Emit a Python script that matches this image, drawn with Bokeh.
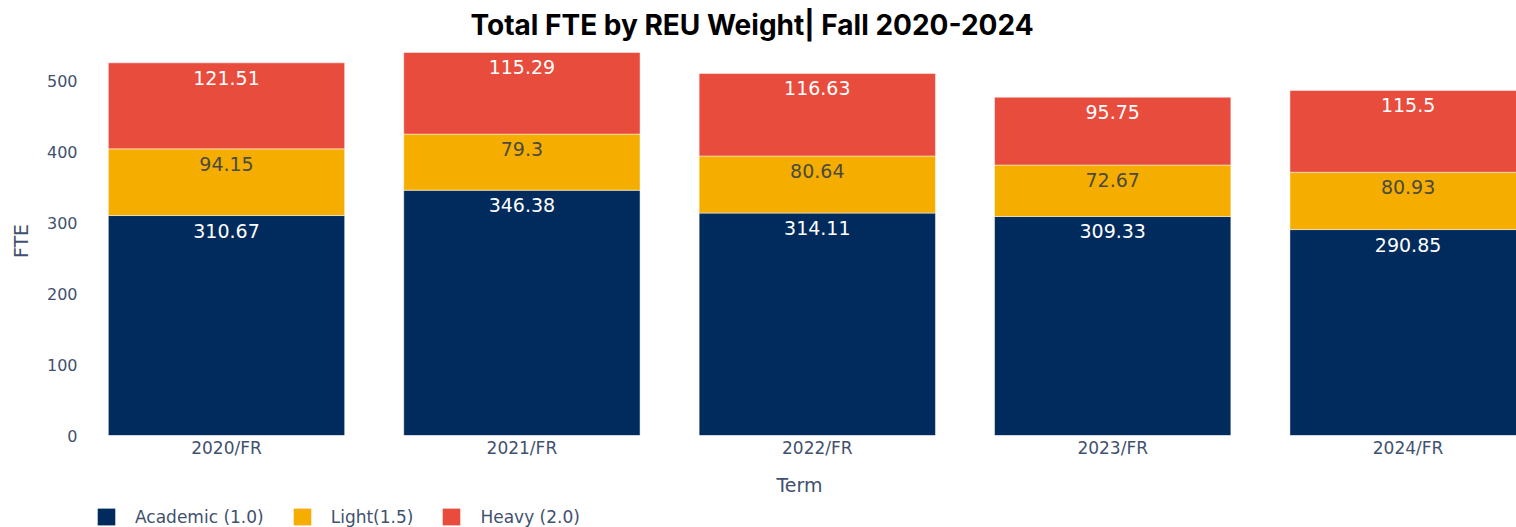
from bokeh.plotting import figure
from bokeh.layouts import column
from bokeh.models import (ColumnDataSource, Range1d, FixedTicker, Legend, LegendItem)
from bokeh.core.properties import value
from bokeh.embed import file_html
from bokeh.resources import INLINE

terms = ["2020/FR", "2021/FR", "2022/FR", "2023/FR", "2024/FR"]
academic = [310.67, 346.38, 314.11, 309.33, 290.85]
light = [94.15, 79.3, 80.64, 72.67, 80.93]
heavy = [121.51, 115.29, 116.63, 95.75, 115.5]
series_names = ["Academic (1.0)", "Light(1.5)", "Heavy (2.0)"]
y_ticks = [0, 100, 200, 300, 400, 500]

colors = ["#002B5C", "#F5AD00", "#E84C3D"]
text_colors = ["#FFFFFF", "#4A4A40", "#FFFFFF"]
tick_color = "#3F516E"

idx = list(range(len(terms)))
src = ColumnDataSource(dict(x=idx, academic=academic, light=light, heavy=heavy))

p = figure(width=1516, height=500, output_backend="svg", toolbar_location=None,
           x_range=Range1d(-0.4875, 4.367), y_range=Range1d(0, 549.4),
           min_border_left=82, min_border_right=0, min_border_top=45,
           min_border_bottom=65)
p.outline_line_color = None
p.grid.visible = False

p.title.text = "Total FTE by REU Weight| Fall 2020-2024"
p.title.text_font = "Inter"
p.title.text_font_style = "bold"
p.title.text_font_size = "28px"
p.title.text_color = "#000000"
p.title.align = "left"
p.title.offset = 388

rs = p.vbar_stack(["academic", "light", "heavy"], x="x", width=0.8, source=src,
                  color=colors, line_color="white", line_width=0.8, line_alpha=0.6)

# value labels near the top of each segment
cum = [0.0] * len(terms)
for vals, tc in zip([academic, light, heavy], text_colors):
    tops = [c + v for c, v in zip(cum, vals)]
    cum = tops
    p.text(x=idx, y=tops, text=[f"{v:g}" for v in vals], text_align="center",
           text_baseline="top", y_offset=8, text_font=value("DejaVu Sans"),
           text_font_size="19px", text_color=tc)

p.xaxis.ticker = FixedTicker(ticks=idx)
p.xaxis.major_label_overrides = {i: t for i, t in enumerate(terms)}
p.yaxis.ticker = FixedTicker(ticks=y_ticks)
for ax in (p.xaxis, p.yaxis):
    ax.axis_line_color = None
    ax.major_tick_line_color = None
    ax.minor_tick_line_color = None
    ax.major_tick_out = 0
    ax.major_tick_in = 0
    ax.major_label_text_font = "DejaVu Sans"
    ax.major_label_text_color = tick_color
    ax.axis_label_text_font = "DejaVu Sans"
    ax.axis_label_text_font_style = "normal"
    ax.axis_label_text_color = tick_color
p.xaxis.major_label_text_font_size = "17px"
p.yaxis.major_label_text_font_size = "16px"
p.xaxis.major_label_standoff = 2
p.yaxis.major_label_standoff = 5
p.xaxis.axis_label = "Term"
p.xaxis.axis_label_text_font_size = "19px"
p.xaxis.axis_label_standoff = 13
p.yaxis.axis_label = "FTE"
p.yaxis.axis_label_text_font_size = "19px"
p.yaxis.axis_label_standoff = 12

# legend strip below the chart (its frame is aligned with the main frame)
lg = figure(width=1516, height=27, output_backend="svg", toolbar_location=None,
            x_range=Range1d(0, 1), y_range=Range1d(0, 1),
            x_axis_type=None, y_axis_type=None,
            min_border_left=0, min_border_right=0, min_border_top=0, min_border_bottom=0)
lg.outline_line_color = None
lg.grid.visible = False
# legend proxies: zero-size, outline-free bars (only their fill is used by the legend)
dummies = [lg.vbar(x=[0.5], top=[0], bottom=[0], width=0, fill_color=c, line_color=None)
           for c in colors]
legend = Legend(items=[LegendItem(label=n, renderers=[r]) for n, r in zip(series_names, dummies)],
                orientation="horizontal", location=(13, 0))
legend.border_line_color = None
legend.background_fill_alpha = 0
legend.glyph_width = 22
legend.glyph_height = 21
legend.label_standoff = 18
legend.spacing = 27
legend.padding = 0
legend.margin = 0
legend.label_text_font = "DejaVu Sans"
legend.label_text_font_size = "17px"
legend.label_text_color = tick_color
lg.add_layout(legend)

layout = column(p, lg, spacing=0)
open("out.html", "w").write(file_html(layout, INLINE))
